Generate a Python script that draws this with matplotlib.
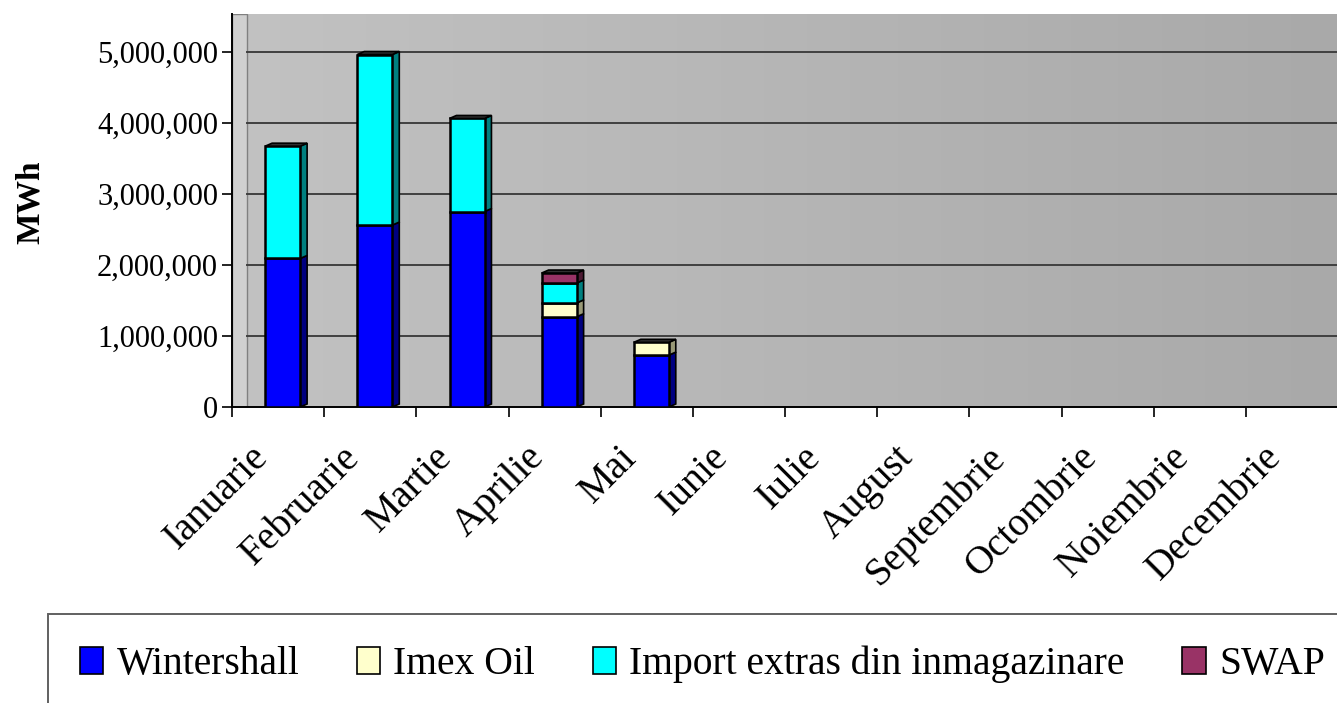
import numpy as np
import matplotlib.pyplot as plt
from matplotlib.patches import Polygon, Rectangle
from matplotlib.colors import LinearSegmentedColormap
import matplotlib.ticker as mticker

plt.rcParams['font.family'] = ['Liberation Serif', 'DejaVu Serif']

# ***** data (MWh)
luni = ["Ianuarie", "Februarie", "Martie", "Aprilie", "Mai", "Iunie", "Iulie",
        "August", "Septembrie", "Octombrie", "Noiembrie", "Decembrie"]
wintershall = [2090000, 2560000, 2750000, 1270000, 730000, 0, 0, 0, 0, 0, 0, 0]
imex_oil    = [0, 0, 0, 195000, 180000, 0, 0, 0, 0, 0, 0, 0]
import_extr = [1580000, 2400000, 1310000, 280000, 0, 0, 0, 0, 0, 0, 0, 0]
swap        = [0, 0, 0, 140000, 0, 0, 0, 0, 0, 0, 0, 0]

serii = [("Wintershall", wintershall, "#0000ff", "#000080"),
         ("Imex Oil", imex_oil, "#ffffcc", "#999977"),
         ("Import extras din inmagazinare", import_extr, "#00ffff", "#008080"),
         ("SWAP", swap, "#993366", "#4d1a33")]

fig = plt.figure(figsize=(13.37, 7.03), dpi=100)
ax = fig.add_axes([232/1337, 1-407/703, 1106/1337, 393/703])

ymax = 5530000

# background gradient of the back wall
cm = LinearSegmentedColormap.from_list("wall", ["#c2c2c2", "#a9a9a9"])
ax.imshow(np.linspace(0, 1, 256).reshape(1, -1), cmap=cm, aspect='auto',
          extent=[0, 1, 0, 1], transform=ax.transAxes, zorder=0)
# left side wall
ax.add_patch(Rectangle((0, 0), 15/1106, 1, transform=ax.transAxes,
                       facecolor="#d0d0d0", edgecolor="#808080", lw=1, zorder=1))
ax.set_xlim(-0.5, 11.5)
ax.set_ylim(0, ymax)

# gridlines on the back wall
for v in range(1000000, 6000000, 1000000):
    ax.axhline(v, xmin=15/1106, xmax=1, color="#404040", lw=1.4, zorder=2)

# stacked 3d-ish columns
x = np.arange(len(luni))
w = 0.38
off = 0.05
dx = 0.075
dy = 3 * ymax / 393
jos = np.zeros(len(luni))
for nume, vals, col, side in serii:
    vals = np.array(vals, dtype=float)
    bars = ax.bar(x + off, vals, w, bottom=jos, color=col, edgecolor="black", lw=1.8,
                  label=nume, zorder=4)
    for i, b in enumerate(bars):
        if vals[i] <= 0:
            b.set_visible(False)
            continue
        xr = x[i] + off + w/2
        y0, y1 = jos[i], jos[i] + vals[i]
        ax.add_patch(Polygon([(xr, y0), (xr + dx, y0 + dy), (xr + dx, y1 + dy), (xr, y1)],
                             closed=True, facecolor=side, edgecolor="black", lw=1.2, zorder=3))
    jos = jos + vals

# top faces of the stacks
for i in range(len(luni)):
    if jos[i] <= 0:
        continue
    xl = x[i] + off - w/2
    xr = x[i] + off + w/2
    ax.add_patch(Polygon([(xl, jos[i]), (xr, jos[i]), (xr + dx, jos[i] + dy), (xl + dx, jos[i] + dy)],
                         closed=True, facecolor="#303030", edgecolor="black", lw=1.2, zorder=5))

# axes
for s in ["top", "right"]:
    ax.spines[s].set_visible(False)
ax.spines["left"].set_color("black")
ax.spines["left"].set_linewidth(1.4)
ax.spines["bottom"].set_color("black")
ax.spines["bottom"].set_linewidth(1.4)

ax.yaxis.set_major_locator(mticker.MultipleLocator(1000000))
ax.yaxis.set_major_formatter(mticker.FuncFormatter(lambda v, p: f"{int(v):,}"))
ax.tick_params(axis='y', labelsize=22, length=7, width=1.2, pad=3, direction='out')

ax.set_xticks(np.arange(-0.5, 12, 1))
ax.set_xticklabels([])
ax.tick_params(axis='x', length=7, width=1.2, direction='out')
for i, lun in enumerate(luni):
    ax.annotate(lun, xy=(i, 0), xycoords=('data', 'axes fraction'),
                xytext=(-16*0.72, -45*0.72), textcoords='offset points',
                rotation=45, ha='right', va='center', rotation_mode='anchor',
                fontsize=28.5, annotation_clip=False)

fig.text(30/1337, 1-202/703, "MWh", rotation=90, fontsize=24, fontweight='bold',
         ha='center', va='center')

leg = fig.legend(loc='upper left', bbox_to_anchor=(48/1337, 1-614/703), ncol=4,
                 fontsize=28.5, handlelength=0.6, handleheight=0.67, handletextpad=0.33,
                 columnspacing=1.45, borderpad=0.8, borderaxespad=0, fancybox=False,
                 framealpha=1, edgecolor="#606060")
leg.get_frame().set_linewidth(1.4)
for h in leg.legend_handles:
    h.set_linewidth(1.2)
    h.set_visible(True)

plt.savefig('out.png', dpi=100)
